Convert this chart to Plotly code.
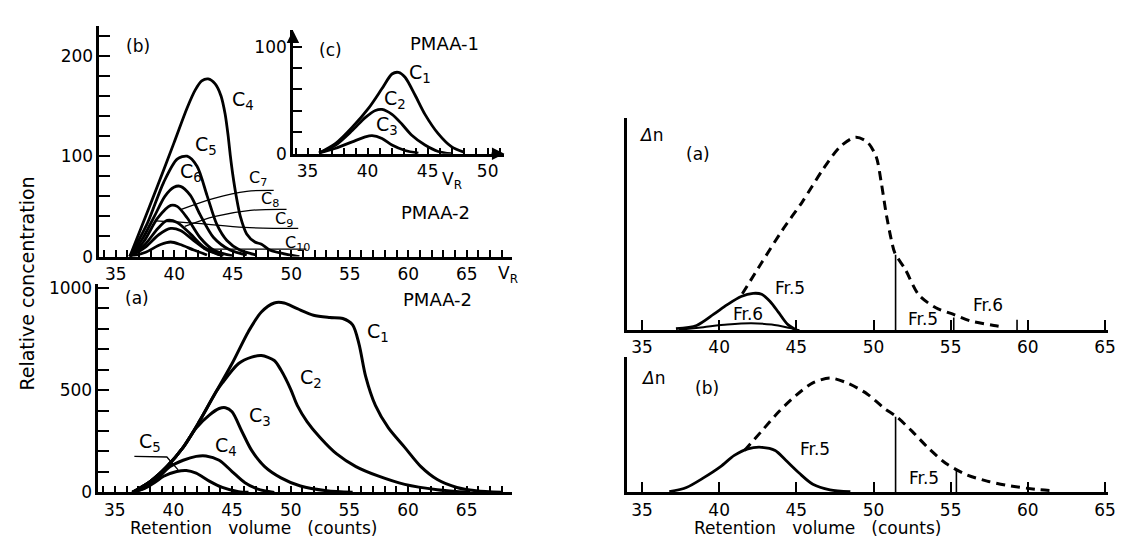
import plotly.graph_objects as go

W, H = 1123, 539
FONT = "DejaVu Sans"

# ---------------- Panel (a), left bottom: PMAA-2 ----------------
a_c1_x = [36.5, 38.06, 39.44, 40.83, 42.2, 43.6, 45.0, 46.4, 47.5, 48.6, 49.44, 50.56, 51.94, 53.33, 54.44, 55.28, 55.83, 56.39, 57.22, 58.33, 59.72, 61.1, 62.5, 64.17, 65.8, 68.0]
a_c1_y = [0, 55, 126, 220, 346, 488, 630, 787, 882, 926, 926, 898, 866, 855, 850, 819, 724, 567, 425, 315, 220, 126, 63, 24, 8, 0]
a_c2_x = [36.5, 38.06, 39.44, 40.83, 42.2, 43.6, 44.17, 45.56, 46.67, 47.5, 48.6, 49.17, 50.0, 50.56, 51.39, 52.5, 53.89, 55.56, 57.5, 59.72, 62.5, 65.3]
a_c2_y = [0, 55, 126, 220, 346, 488, 535, 630, 661, 669, 645, 598, 504, 425, 346, 268, 189, 126, 79, 39, 13, 0]
a_c3_x = [36.5, 38.06, 39.44, 40.83, 41.94, 43.06, 43.9, 44.44, 45.0, 45.83, 46.67, 47.78, 49.17, 50.83, 53.06, 55.28]
a_c3_y = [0, 55, 126, 220, 315, 378, 410, 414, 394, 299, 205, 126, 71, 31, 8, 0]
a_c4_x = [36.5, 37.5, 38.5, 39.72, 40.83, 41.94, 42.78, 43.9, 45.0, 46.1, 47.2, 48.6]
a_c4_y = [0, 20, 60, 126, 157, 176, 178, 157, 102, 47, 16, 0]
a_c5_x = [36.5, 37.5, 38.4, 39.17, 40.28, 41.1, 41.94, 43.06, 44.17, 45.56, 46.4]
a_c5_y = [0, 18, 48, 79, 102, 107, 94, 55, 24, 3, 0]
a_c5_lead_x = [36.67, 39.44, 40.4]
a_c5_lead_y = [176, 173, 110]

# ---------------- Panel (b), left top: PMAA-2 ----------------
b_c4_x = [36.2, 37.15, 38.56, 39.97, 41.1, 41.8, 42.35, 42.9, 43.5, 44.0, 44.35, 44.6, 44.8, 45.0, 45.3, 45.65, 46.19, 46.9, 47.46, 48.16, 49.86, 50.7]
b_c4_y = [0, 28, 70, 113, 148, 166, 175, 177, 172, 160, 142, 121, 100, 82, 60, 40, 22.6, 14.5, 12.3, 6.5, 1.6, 0]
b_c5_x = [36.2, 37.7, 39.1, 40.25, 41.1, 41.95, 42.8, 43.64, 44.5, 45.6, 47.0]
b_c5_y = [0, 33, 74, 97, 100, 90, 61, 32, 16, 6.5, 1.6]
b_c6_x = [36.2, 37.3, 38.3, 39.2, 39.97, 40.53, 41.38, 42.2, 43.36, 44.77, 46.2]
b_c6_y = [0, 18, 40, 60, 69, 70, 61, 42, 19, 6.5, 1.6]
b_c7_x = [36.2, 37.4, 38.56, 39.7, 40.25, 41.1, 42.2, 43.36, 45.0]
b_c7_y = [0, 15, 38, 51, 50, 38.7, 19, 6.5, 0.6]
b_c8_x = [36.2, 37.5, 38.6, 39.4, 40.25, 41.38, 42.5, 43.9]
b_c8_y = [0, 12, 28, 36, 34, 22.6, 9.7, 1.6]
b_c9_x = [36.2, 37.6, 38.7, 39.7, 40.53, 41.67, 42.8, 44.2]
b_c9_y = [0, 10, 22, 28, 26, 16, 6.5, 0.6]
b_c10_x = [36.2, 37.5, 38.84, 39.7, 40.53, 41.67, 42.8]
b_c10_y = [0, 4, 12, 14.5, 12, 6.5, 1.6]
b_lead7_x = [40.6, 43.4, 46.2, 48.5]
b_lead7_y = [47, 58, 65, 66]
b_lead8_x = [40.9, 43.5, 46.5, 49.6]
b_lead8_y = [30, 40, 46, 47]
b_lead9_x = [38.4, 42.0, 46.0, 50.6]
b_lead9_y = [35.5, 33, 29, 28]
b_lead10_x = [42.5, 51.3]
b_lead10_y = [7.5, 7.5]

# ---------------- Panel (c), inset: PMAA-1 ----------------
c_c1_x = [35.96, 37.34, 38.72, 40.1, 41.2, 42.03, 42.57, 43.12, 43.95, 44.78, 45.88, 46.98, 48.08]
c_c1_y = [0.6, 9.6, 24.7, 42.8, 60.8, 74.4, 75.9, 71.4, 54.8, 36.7, 18.7, 6.6, 1.2]
c_c2_x = [35.96, 37.34, 38.72, 39.8, 40.65, 41.2, 42.03, 42.85, 43.68, 44.78, 45.88, 46.98]
c_c2_y = [0.6, 8.1, 21.7, 33.7, 40.4, 41.3, 36.7, 27.7, 17.2, 8.1, 2.1, 0]
c_c3_x = [35.96, 37.34, 38.72, 39.8, 40.37, 41.2, 42.03, 43.12, 44.23]
c_c3_y = [0.6, 5.1, 11.1, 15.7, 16.9, 14.2, 8.1, 3.0, 0.6]

# ---------------- Right panel (a): delta n ----------------
ra_dash_x = [41.5, 42.75, 44.08, 45.4, 46.73, 47.84, 48.84, 49.6, 50.17, 50.5, 50.83, 51.16, 51.38, 52.05, 52.93, 54.04, 55.15, 56.25, 57.8, 58.47]
ra_dash_y = [17.2, 31.8, 47, 60.6, 75.8, 86.4, 90.9, 88.6, 81.8, 69.7, 54.5, 42.4, 36.4, 28.8, 16.7, 10.6, 7.6, 4.5, 2.3, 1.5]
ra_fr5_x = [37.2, 38.54, 39.65, 40.53, 41.42, 42.2, 42.75, 43.3, 43.86, 44.41, 44.96]
ra_fr5_y = [0.8, 2.3, 7.6, 12.1, 15.9, 17.4, 17.0, 13.6, 8.3, 3.0, 0.3]
ra_fr6_x = [37.4, 38.98, 40.53, 42.08, 43.4, 44.5, 45.2]
ra_fr6_y = [0.3, 1.5, 2.7, 3.3, 2.7, 1.2, 0]
ra_cut_x = [51.43, 55.2, 59.3]
ra_cut_y = [35.6, 6.0, 5.0]

# ---------------- Right panel (b): delta n ----------------
rb_dash_x = [41.64, 42.75, 43.86, 44.96, 46.07, 47.18, 48.28, 49.61, 50.72, 51.49, 52.49, 53.6, 54.7, 56.03, 57.36, 58.9, 60.46, 61.57]
rb_dash_y = [19.7, 28.8, 37.9, 45.5, 51.5, 53.8, 51.5, 46.2, 39.4, 35.6, 28.8, 20.5, 13.6, 8.3, 5.3, 3.0, 1.5, 0.8]
rb_fr5_x = [36.77, 37.88, 38.98, 40.09, 40.98, 41.86, 42.75, 43.63, 44.3, 45.18, 46.07, 47.18, 48.5]
rb_fr5_y = [0.3, 2.3, 6.8, 12.1, 17.4, 20.5, 21.2, 19.7, 15.2, 9.1, 3.8, 1.2, 0.3]
rb_cut_x = [51.43, 55.37]
rb_cut_y = [35.6, 10.6]

# tick positions / labels
left_x_ticks = list(range(34, 69))
inset_x_ticks = list(range(34, 52))
right_x_ticks = [35, 40, 45, 50, 55, 60, 65]
b_y_ticks = list(range(0, 221, 20))
a_y_ticks = list(range(0, 1001, 100))
c_y_ticks = list(range(0, 101, 20))

# axis geometry (pixel domains and data ranges)
B_XPX, B_YPX, B_XR, B_YR = (92, 508), (250, 12), (33.6, 68.9), (0, 230)
A_XPX, A_YPX, A_XR, A_YR = (91, 508), (493, 278), (33.6, 68.9), (0, 1020)
C_XPX, C_YPX, C_XR, C_YR = (287, 500), (144, 17), (33.78, 51.4), (0, 115)
RA_XPX, RA_YPX, R_XR, RA_YR = (623, 1108), (326, 107), (34, 65.2), (0, 100)
RB_XPX, RB_YPX, RB_YR = (623, 1108), (493, 353), (0, 63.9)


def px_x(p):
    return [p[0] / W, p[1] / W]


def px_y(p):
    return [1 - p[0] / H, 1 - p[1] / H]


TS = 17  # tick font size
LS = 17  # label font size
CS = 19  # curve-label font size
tickfont = dict(family=FONT, size=TS, color="black")
fig = go.Figure()


def curve(x, y, xa, ya, width=3.0, dash=None):
    fig.add_trace(go.Scatter(x=x, y=y, xaxis=xa, yaxis=ya, mode="lines",
                             line=dict(color="black", width=width, shape="spline", smoothing=0.8,
                                       dash=dash), hoverinfo="skip", showlegend=False))


def straight(x, y, xa, ya, width=1.5):
    fig.add_trace(go.Scatter(x=x, y=y, xaxis=xa, yaxis=ya, mode="lines",
                             line=dict(color="black", width=width), hoverinfo="skip", showlegend=False))


# Panel (b)
for xs, ys in [(b_c4_x, b_c4_y), (b_c5_x, b_c5_y), (b_c6_x, b_c6_y), (b_c7_x, b_c7_y),
               (b_c8_x, b_c8_y), (b_c9_x, b_c9_y), (b_c10_x, b_c10_y)]:
    curve(xs, ys, "x", "y", width=2.8)
for xs, ys in [(b_lead7_x, b_lead7_y), (b_lead8_x, b_lead8_y), (b_lead9_x, b_lead9_y), (b_lead10_x, b_lead10_y)]:
    fig.add_trace(go.Scatter(x=xs, y=ys, xaxis="x", yaxis="y", mode="lines",
                             line=dict(color="black", width=1.3, shape="spline"), hoverinfo="skip", showlegend=False))

# Panel (a)
for xs, ys in [(a_c1_x, a_c1_y), (a_c2_x, a_c2_y), (a_c3_x, a_c3_y), (a_c4_x, a_c4_y), (a_c5_x, a_c5_y)]:
    curve(xs, ys, "x2", "y2", width=3.0)
straight(a_c5_lead_x, a_c5_lead_y, "x2", "y2", width=1.3)

# Panel (c)
for xs, ys in [(c_c1_x, c_c1_y), (c_c2_x, c_c2_y), (c_c3_x, c_c3_y)]:
    curve(xs, ys, "x3", "y3", width=2.8)

# Right (a)
curve(ra_dash_x, ra_dash_y, "x4", "y4", width=3.0, dash="9px,6px")
curve(ra_fr5_x, ra_fr5_y, "x4", "y4", width=2.8)
curve(ra_fr6_x, ra_fr6_y, "x4", "y4", width=2.0)
for cx, cy in zip(ra_cut_x, ra_cut_y):
    straight([cx, cx], [0, cy], "x4", "y4", width=1.6)

# Right (b)
curve(rb_dash_x, rb_dash_y, "x5", "y5", width=3.0, dash="9px,6px")
curve(rb_fr5_x, rb_fr5_y, "x5", "y5", width=2.8)
for cx, cy in zip(rb_cut_x, rb_cut_y):
    straight([cx, cx], [0, cy], "x5", "y5", width=1.6)


def labels_every(vals, step):
    return [str(v) if v % step == 0 else "" for v in vals]


def xaxis(xpx, rng, anchor, vals, texts, ticklen):
    return dict(domain=px_x(xpx), range=list(rng), anchor=anchor, showline=True, linecolor="black",
                linewidth=2.5, showgrid=False, zeroline=False, tickmode="array", tickvals=vals, ticktext=texts,
                ticks="inside", ticklen=ticklen, tickwidth=1.8, tickcolor="black", tickfont=tickfont)


def yaxis(ypx, rng, anchor, vals=None, texts=None, ticklen=11):
    d = dict(domain=px_y(ypx), range=list(rng), anchor=anchor, showline=True, linecolor="black",
             linewidth=2.5, showgrid=False, zeroline=False, tickfont=tickfont)
    if vals is None:
        d.update(showticklabels=False, ticks="")
    else:
        d.update(tickmode="array", tickvals=vals, ticktext=texts, ticks="inside", ticklen=ticklen,
                 tickwidth=1.8, tickcolor="black")
    return d


fig.update_layout(
    width=W, height=H, margin=dict(l=0, r=0, t=0, b=0),
    paper_bgcolor="white", plot_bgcolor="rgba(0,0,0,0)",
    font=dict(family=FONT, color="black"),
    showlegend=False,
    xaxis=xaxis(B_XPX, B_XR, "y", left_x_ticks, labels_every(left_x_ticks, 5), 7),
    yaxis=yaxis(B_YPX, B_YR, "x", b_y_ticks, labels_every(b_y_ticks, 100)),
    xaxis2=xaxis(A_XPX, A_XR, "y2", left_x_ticks, labels_every(left_x_ticks, 5), 7),
    yaxis2=yaxis(A_YPX, A_YR, "x2", a_y_ticks, labels_every(a_y_ticks, 500)),
    xaxis3=xaxis(C_XPX, C_XR, "y3", inset_x_ticks, labels_every(inset_x_ticks, 5), 6),
    yaxis3=yaxis(C_YPX, C_YR, "x3", c_y_ticks, labels_every(c_y_ticks, 100), ticklen=9),
    xaxis4=xaxis(RA_XPX, R_XR, "y4", right_x_ticks, [str(v) for v in right_x_ticks], 11),
    yaxis4=yaxis(RA_YPX, RA_YR, "x4"),
    xaxis5=xaxis(RB_XPX, R_XR, "y5", right_x_ticks, [str(v) for v in right_x_ticks], 11),
    yaxis5=yaxis(RB_YPX, RB_YR, "x5"),
)

ann = []


def label(text, x, y, xref, yref, size=LS, xanchor="center"):
    ann.append(dict(text=text, x=x, y=y, xref=xref, yref=yref, showarrow=False, xanchor=xanchor,
                    yanchor="middle", font=dict(family=FONT, size=size, color="black")))


# panel (b) labels
label("(b)", 36.9, 210, "x", "y")
label("C<sub>4</sub>", 45.9, 155, "x", "y", CS)
label("C<sub>5</sub>", 42.7, 111, "x", "y", CS)
label("C<sub>6</sub>", 41.4, 84, "x", "y", CS)
label("C<sub>7</sub>", 47.2, 78, "x", "y", 16)
label("C<sub>8</sub>", 48.2, 57, "x", "y", 16)
label("C<sub>9</sub>", 49.4, 36.5, "x", "y", 16)
label("C<sub>10</sub>", 50.5, 13, "x", "y", 16)
label("PMAA-2", 62.3, 43.5, "x", "y", 18)
label("V<sub>R</sub>", 504 / W, 1 - 268 / H, "paper", "paper")
# panel (a) labels
label("(a)", 36.9, 950, "x2", "y2")
label("PMAA-2", 62.5, 945, "x2", "y2", 18)
label("C<sub>1</sub>", 57.4, 780, "x2", "y2", CS)
label("C<sub>2</sub>", 51.7, 559, "x2", "y2", CS)
label("C<sub>3</sub>", 47.4, 370, "x2", "y2", CS)
label("C<sub>4</sub>", 44.5, 222, "x2", "y2", CS)
label("C<sub>5</sub>", 38.0, 242, "x2", "y2", CS)
# panel (c) labels
label("(c)", 36.9, 97, "x3", "y3")
label("PMAA-1", 46.4, 103, "x3", "y3", 18)
label("C<sub>1</sub>", 44.4, 75, "x3", "y3", CS)
label("C<sub>2</sub>", 42.3, 51, "x3", "y3", CS)
label("C<sub>3</sub>", 41.6, 26, "x3", "y3", CS)
label("V<sub>R</sub>", 447 / W, 1 - 172 / H, "paper", "paper")
# arrows on inset axes
ann.append(dict(x=C_XR[1], y=0, ax=C_XR[1] - 1.2, ay=0, xref="x3", yref="y3", axref="x3", ayref="y3",
                showarrow=True, arrowhead=2, arrowsize=1, arrowwidth=2.5, arrowcolor="black", text=""))
ann.append(dict(x=C_XR[0], y=C_YR[1], ax=C_XR[0], ay=C_YR[1] - 12, xref="x3", yref="y3", axref="x3", ayref="y3",
                showarrow=True, arrowhead=2, arrowsize=1, arrowwidth=2.5, arrowcolor="black", text=""))
# right (a)
label("<i>Δ</i>n", 35.6, 92, "x4", "y4")
label("(a)", 38.6, 83, "x4", "y4")
label("Fr.5", 44.6, 19.7, "x4", "y4")
label("Fr.6", 41.9, 7.6, "x4", "y4")
label("Fr.5", 53.2, 5.5, "x4", "y4")
label("Fr.6", 57.4, 12.1, "x4", "y4")
# right (b)
label("<i>Δ</i>n", 35.7, 54, "x5", "y5")
label("(b)", 39.2, 49, "x5", "y5")
label("Fr.5", 46.2, 20.5, "x5", "y5")
label("Fr.5", 53.3, 6.8, "x5", "y5")
# axis titles
label("Relative concentration", 19 / W, 1 - 278 / H, "paper", "paper", 19)
ann[-1]["textangle"] = -90
SP = "\u00a0\u00a0\u00a0"
label("Retention" + SP + "volume" + SP + "(counts)", 247 / W, 1 - 530 / H, "paper", "paper", 17)
label("Retention" + SP + "volume" + SP + "(counts)", 815 / W, 1 - 530 / H, "paper", "paper", 17)

fig.update_layout(annotations=ann)
fig.write_html("out.html")
